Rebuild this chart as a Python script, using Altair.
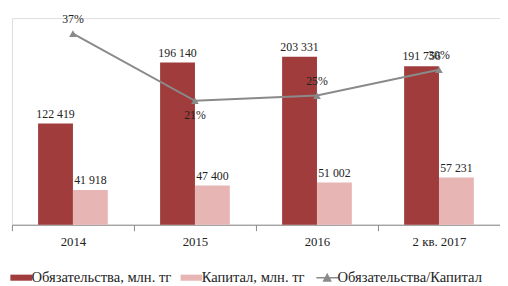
import altair as alt
import pandas as pd

years = ["2014", "2015", "2016", "2 кв. 2017"]
liab = [122419, 196140, 203331, 191756]
cap = [41918, 47400, 51002, 57231]
ratio = [0.37, 0.24, 0.25, 0.30]
ratio_labels = ["37%", "21%", "25%", "30%"]
ratio_above = [True, False, True, True]

s_liab = "Обязательства, млн. тг"
s_cap = "Капитал, млн. тг"
s_ratio = "Обязательства/Капитал"

def fmt(v):
    return f"{v:,}".replace(",", " ")

bars = pd.DataFrame(
    [{"year": y, "series": s_liab, "order": 0, "value": v, "label": fmt(v)} for y, v in zip(years, liab)]
    + [{"year": y, "series": s_cap, "order": 1, "value": v, "label": fmt(v)} for y, v in zip(years, cap)]
)
line = pd.DataFrame({"year": years, "series": s_ratio, "value": ratio,
                     "label": ratio_labels, "above": ratio_above})

FONT = "Liberation Serif"
color_scale = alt.Scale(domain=[s_liab, s_cap, s_ratio], range=["#a03c3c", "#e8b5b5", "#8a8a8a"])

x_enc = alt.X("year:N", sort=years, title=None,
              scale=alt.Scale(paddingInner=0, paddingOuter=0),
              axis=alt.Axis(labelAngle=0, tickBand="extent", tickSize=6, domainColor="#888",
                            tickColor="#888", labelFont=FONT, labelFontSize=13, labelColor="#222",
                            labelPadding=5))

legend = alt.Legend(
    title=None, orient="none", legendX=2, legendY=256, direction="horizontal", columns=3,
    labelFont=FONT, labelFontSize=14.8, labelColor="#222", labelLimit=400, labelOffset=3,
    columnPadding=8, symbolSize=484, symbolOpacity=1,
    symbolType={"expr": "datum.index == 2 ? 'M-1,0H1M-0.32,0.3L0,-0.3L0.32,0.3Z' : 'M-1,-0.28H1V0.28H-1Z'"},
    symbolStrokeWidth={"expr": "datum.index == 2 ? 1.5 : 0"},
    symbolFillColor={"expr": "scale('color', datum.value)"},
    symbolStrokeColor={"expr": "scale('color', datum.value)"},
)

ybar = alt.Y("value:Q", scale=alt.Scale(domain=[0, 250000]), axis=None)
base_bar = alt.Chart(bars).encode(
    x=x_enc,
    xOffset=alt.XOffset("order:O", scale=alt.Scale(paddingInner=0, paddingOuter=0.75)),
    y=ybar,
)
bar_layer = base_bar.mark_bar().encode(color=alt.Color("series:N", scale=color_scale, legend=legend))
bar_text = base_bar.mark_text(baseline="bottom", dy=-3, font=FONT, fontSize=12, color="#222").encode(
    text="label:N")

yline = alt.Y("value:Q", scale=alt.Scale(domain=[0, 0.40]), axis=None)
base_line = alt.Chart(line).encode(x=alt.X("year:N", sort=years), y=yline)
line_layer = base_line.mark_line(strokeWidth=2).encode(
    color=alt.Color("series:N", scale=color_scale, legend=legend))
pts = base_line.mark_point(shape="triangle-up", filled=True, size=60, opacity=1, color="#8a8a8a")
txt_up = base_line.mark_text(baseline="bottom", dy=-8, font=FONT, fontSize=12, color="#222").encode(
    text="label:N").transform_filter("datum.above")
txt_dn = base_line.mark_text(baseline="top", dy=10, font=FONT, fontSize=12, color="#222").encode(
    text="label:N").transform_filter("!datum.above")

bar_part = alt.layer(bar_layer, bar_text)
line_part = alt.layer(line_layer, pts, txt_up, txt_dn)

chart = alt.layer(bar_part, line_part).resolve_scale(y="independent").properties(
    width=496, height=210,
    autosize=alt.AutoSizeParams(type="none"),
    padding={"left": 4, "top": 8, "right": 0, "bottom": 60},
).configure_view(stroke=None).configure(background="white")

chart.save("out.html", embed_options={"renderer": "svg", "actions": False})
